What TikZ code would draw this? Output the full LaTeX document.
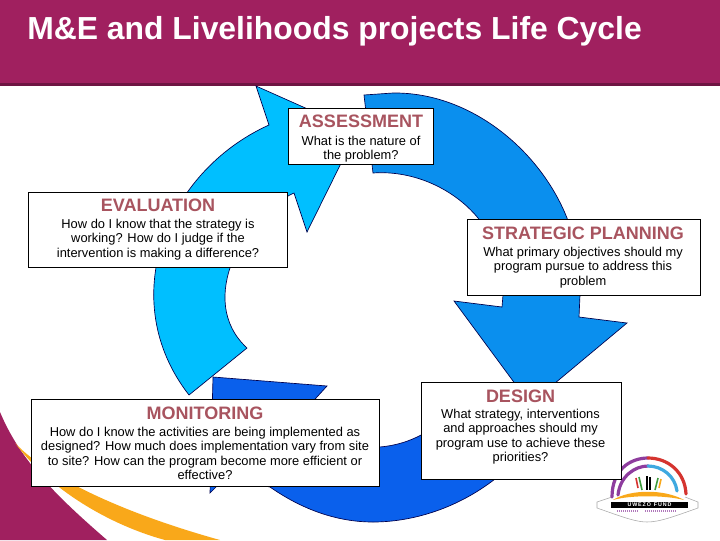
\documentclass[tikz,border=0pt]{standalone}
\usepackage{fontspec}
\setmainfont{Liberation Sans}
\definecolor{plum}{HTML}{A0205F}
\definecolor{plumdark}{HTML}{6E1442}
\definecolor{swoosh}{HTML}{F9A81A}
\definecolor{skyarrow}{HTML}{00BFFF}
\definecolor{midarrow}{HTML}{0A8FEE}
\definecolor{deeparrow}{HTML}{0A60EC}
\definecolor{headcol}{HTML}{A8545F}
\definecolor{logopurple}{HTML}{8E3D9E}
\definecolor{logored}{HTML}{D5342F}
\definecolor{logoblue}{HTML}{3FA9E0}
\definecolor{logogreen}{HTML}{3C9A3C}
\newcommand{\headf}{\fontsize{13.5pt}{14.5pt}\selectfont\bfseries\color{headcol}}
\newcommand{\bodyf}{\fontsize{9.65pt}{10.9pt}\selectfont}
\tikzset{
  cyclearrow/.style={draw=black!70!blue,line width=0.5pt,line join=miter},
  infobox/.style={draw=black,fill=white,line width=0.75pt,inner sep=0pt,rectangle},
  infotext/.style={align=center,anchor=north,inner sep=0pt,font=\bodyf,text=black},
  ring/.style={line width=2.4pt,line cap=round}
}
\begin{document}
\begin{tikzpicture}[x=0.75pt,y=-0.75pt]
\useasboundingbox (0,0) rectangle (720,540);
\fill[white] (0,0) rectangle (720,540);
% corner swoosh
\fill[plum] (0,412) .. controls (20,460) and (55,495) .. (107,540) -- (0,540) -- cycle;
\fill[swoosh] (15,443) .. controls (50,480) and (130,515) .. (220,540) -- (165,540) .. controls (110,525) and (50,490) .. cycle;
% header
\fill[plum] (0,0) rectangle (720,83);
\fill[plumdark] (0,83) rectangle (720,86);
\node[anchor=base west,inner sep=0pt,text=white] (title) at (27,39) {\fontsize{23.9pt}{25pt}\selectfont\bfseries M\&E and Livelihoods projects Life Cycle};
% arrows
\path[cyclearrow,fill=skyarrow] (256,86) -- (357,131) -- (307,232) -- (294,193)
  .. controls (245,215) and (195,300) .. (247,348)
  -- (189,395)
  .. controls (115,300) and (165,172) .. (269,125)
  -- cycle;
\path[cyclearrow,fill=midarrow] (364,95) -- (393,93)
  .. controls (470,92) and (540,150) .. (567,218)
  .. controls (575,245) and (580,270) .. (580,295)
  -- (579,317) -- (627,323) -- (530,404) -- (454,301) -- (502,307) -- (503,295)
  .. controls (497,265) and (490,240) .. (478,218)
  .. controls (455,190) and (415,170) .. (373,173)
  -- cycle;
\path[cyclearrow,fill=deeparrow] (213,377) -- (327,386) -- (285,432)
  .. controls (315,445) and (350,449) .. (379,447)
  .. controls (395,446) and (410,441) .. (421,435)
  .. controls (440,425) and (465,410) .. (480,395)
  -- (495,479)
  .. controls (455,510) and (410,522) .. (373,522)
  .. controls (335,522) and (300,508) .. (270,487)
  -- (225,478) -- (210,493) -- cycle;
% logo
\draw[gray!70,line width=0.4pt] (612,497) -- (597,502) -- (597,508) .. controls (620,516) and (635,522) .. (647,522) .. controls (660,522) and (675,516) .. (698,508) -- (698,502) -- (685,497);
\draw[ring,logopurple] (612,497) .. controls (612,470) and (630,458) .. (648,458);
\draw[ring,logored] (648,458) .. controls (668,458) and (685,472) .. (686,494);
\draw[ring,logopurple] (618,495) .. controls (620,476) and (635,466) .. (648,466);
\draw[ring,logoblue] (648,466) .. controls (662,466) and (675,476) .. (677,491);
\fill[swoosh] (613,500) .. controls (630,489) and (665,489) .. (684,500) .. controls (665,495) and (630,495) .. cycle;
\draw[line width=1.6pt,black] (647,476) -- (647,490) (650,477) -- (650,490);
\draw[line width=1.2pt,logogreen] (639,477) -- (642,490);
\draw[line width=1.2pt,logored] (636,478) -- (638,488);
\draw[line width=1.2pt,logogreen] (658,478) -- (655,490);
\draw[line width=1.2pt,swoosh] (661,479) -- (659,488);
\node[fill=black,minimum width=57.75pt,minimum height=4.5pt,inner sep=0pt,text=white] (logobar) at (649.5,505) {\fontsize{4pt}{4pt}\selectfont\bfseries U\,W\,E\,Z\,O\ \ F\,U\,N\,D};
\draw[logopurple!70,line width=1.2pt,dash pattern=on 1pt off 0.5pt] (617,511) -- (638,511) (645,511) -- (677,511);
% boxes
\node[infobox,minimum width=108.75pt,minimum height=42pt] (assessbox) at (360.5,136) {};
\node[infotext] (assesstext) at (361,115) {\headf ASSESSMENT\\[2.25pt]What is the nature of\\the problem?};
\node[infobox,minimum width=194.25pt,minimum height=56.25pt] (evalbox) at (157.5,229.5) {};
\node[infotext] (evaltext) at (158,199) {\headf EVALUATION\\[1.5pt]How do I know that the strategy is\\working? How do I judge if the\\intervention is making a difference?};
\node[infobox,minimum width=174.75pt,minimum height=57pt] (stratbox) at (583.5,257) {};
\node[infotext] (strattext) at (583,227) {\headf STRATEGIC PLANNING\\[1.5pt]What primary objectives should my\\program pursue to address this\\problem};
\node[infobox,minimum width=150pt,minimum height=72.75pt] (designbox) at (521,430.5) {};
\node[infotext] (designtext) at (520.5,390) {\headf DESIGN\\[0.75pt]What strategy, interventions\\and approaches should my\\program use to achieve these\\priorities?};
\node[infobox,minimum width=261pt,minimum height=65.25pt] (monbox) at (205,442.5) {};
\node[infotext] (montext) at (205,407) {\headf MONITORING\\[1.5pt]How do I know the activities are being implemented as\\designed? How much does implementation vary from site\\to site? How can the program become more efficient or\\effective?};
\end{tikzpicture}
\end{document}
